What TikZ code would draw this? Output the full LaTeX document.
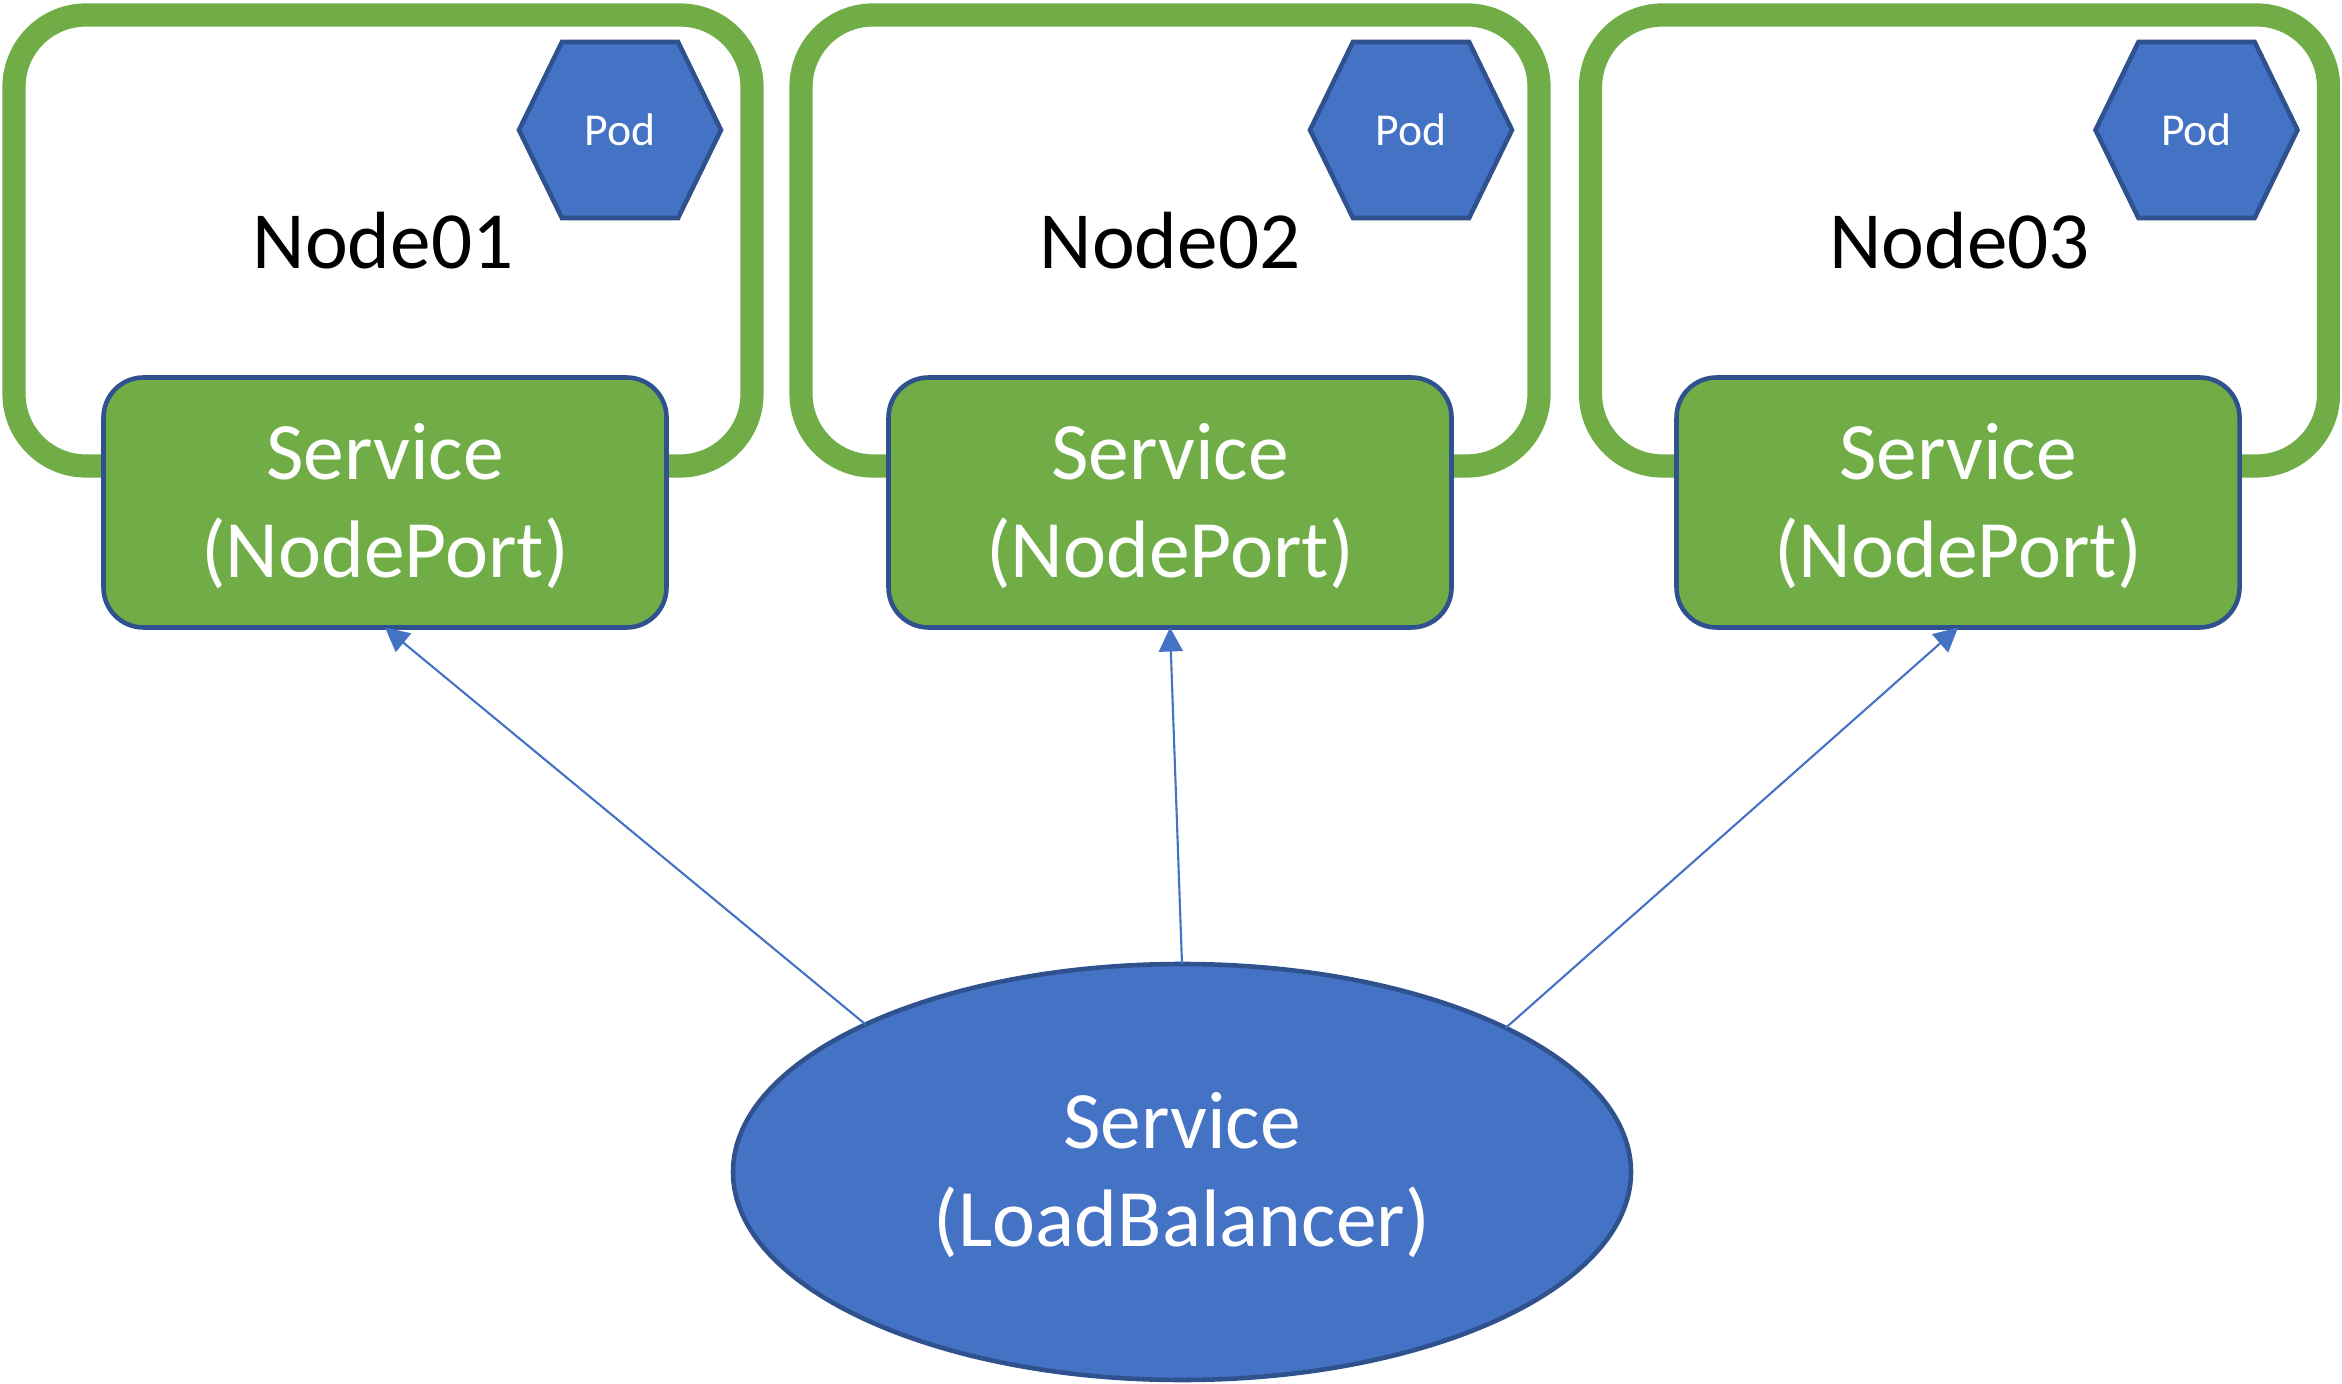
\documentclass[tikz,border=0pt]{standalone}
\usepackage{fontspec}
\setmainfont{Carlito}
\usetikzlibrary{positioning}
\usetikzlibrary{arrows.meta}
\usetikzlibrary{shapes.geometric}
\usetikzlibrary{shapes.symbols}
\definecolor{nodegreen}{HTML}{70AD47}
\definecolor{podblue}{HTML}{4472C4}
\definecolor{edgeblue}{HTML}{2F528F}
\newcommand{\toprule}{\rule{0pt}{17.9pt}}
\tikzset{>={Triangle[length=2.4mm,width=2.4mm]}}
\tikzset{frame/.style={draw=nodegreen,line width=6.6pt,rounded corners=0.72cm,minimum width=7.38cm,minimum height=4.51cm,outer sep=0pt,inner sep=0pt,font=\fontsize{23.1}{27}\selectfont}}
\tikzset{svc/.style={draw=edgeblue,line width=1.3pt,fill=nodegreen,text=white,rounded corners=0.4cm,minimum width=5.63cm,minimum height=2.5cm,outer sep=0pt,inner sep=0pt,on grid,align=center,font=\fontsize{23.2}{27.9}\selectfont}}
\tikzset{pod/.style={signal,signal to=east and west,signal pointer angle=128,draw=edgeblue,line width=1.3pt,fill=podblue,text=white,minimum width=2.02cm,minimum height=1.76cm,inner sep=0pt,on grid,font=\fontsize{13}{15}\selectfont}}
\tikzset{lb/.style={ellipse,draw=edgeblue,line width=1.3pt,fill=podblue,text=white,minimum width=8.98cm,minimum height=4.16cm,inner sep=0pt,outer sep=0pt,align=center,font=\fontsize{23.2}{27.9}\selectfont}}
\tikzset{link/.style={->,draw=podblue,line width=0.6pt}}
\begin{document}
\begin{tikzpicture}
        \useasboundingbox (0,0) rectangle (23.42,-13.84);

        \node[frame] (F1) at (3.83,-2.405) {Node01};
        \node[frame] (F2) at (11.70,-2.405) {Node02};
        \node[frame] (F3) at (19.595,-2.405) {Node03};

        \node[pod, above right=1.105 and 2.37 of F1] (P1) {Pod};
        \node[pod, above right=1.105 and 2.41 of F2] (P2) {Pod};
        \node[pod, above right=1.105 and 2.37 of F3] (P3) {Pod};

        \node[svc, below right=2.62 and 0.02 of F1] (S1) {\toprule Service\\(NodePort)};
        \node[svc, below=2.62 of F2] (S2) {\toprule Service\\(NodePort)};
        \node[svc, below left=2.62 and 0.015 of F3] (S3) {\toprule Service\\(NodePort)};

        \node[lb] (LB) at (11.82,-11.72) {\toprule Service\\(LoadBalancer)};

        \draw[link] (LB.155) -- (S1.south);
        \draw[link] (LB.north) -- (S2.south);
        \draw[link] (LB.24) -- (S3.south);
    \end{tikzpicture}
\end{document}
